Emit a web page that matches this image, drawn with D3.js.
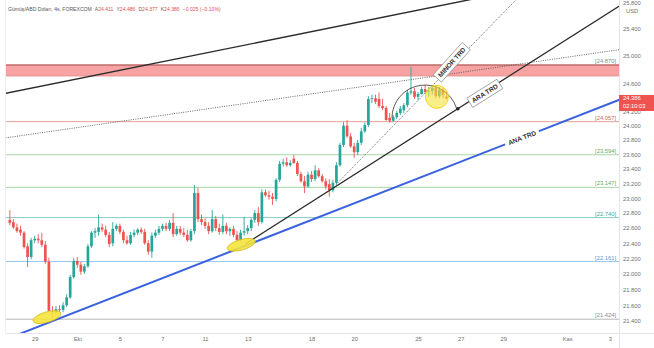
<!DOCTYPE html>
<html><head><meta charset="utf-8">
<script src="https://cdn.jsdelivr.net/npm/d3@7/dist/d3.min.js"></script>
<style>body{margin:0;background:#fff}svg{display:block;font-family:"Liberation Sans",Arial,sans-serif}</style>
</head><body><svg id="c" width="654" height="348"></svg>
<script>
// ---------- DATA ----------
const titleText = "Gümüş/ABD Doları, 4s, FOREXCOM";
const ohlcLetters = ["A", "Y", "D", "K"];
const ohlcValues = ["24.411", "24.486", "24.377", "24.386"];
const changeText = "−0.025 (−0.10%)";
const firstBar = -7; // bar index of first candle (0 = 29 Eylül 00:00, 4h bars)
const opens = [22.71,22.68,22.61,22.58,22.54,22.36,22.22,22.44,22.46,22.44,22.38,22.16,21.53,21.51,21.55,21.54,21.60,21.70,21.96,22.17,22.12,22.03,22.10,22.36,22.54,22.55,22.61,22.58,22.51,22.40,22.59,22.63,22.55,22.44,22.40,22.51,22.54,22.58,22.55,22.40,22.29,22.50,22.54,22.59,22.63,22.59,22.67,22.52,22.59,22.54,22.51,22.44,22.56,23.07,22.72,22.68,22.63,22.56,22.72,22.60,22.55,22.63,22.56,22.59,22.51,22.44,22.54,22.56,22.60,22.71,22.80,22.68,23.08,23.04,23.02,22.99,23.25,23.47,23.49,23.45,23.54,23.48,23.33,23.23,23.16,23.32,23.26,23.38,23.30,23.23,23.19,23.11,23.21,23.45,23.73,24.00,23.85,23.71,23.63,23.76,23.92,24.01,24.38,24.39,24.38,24.28,24.25,24.11,24.07,24.12,24.18,24.22,24.29,24.47,24.49,24.41,24.45,24.52,24.48,24.49,24.54,24.42,24.51,24.411];
const highs = [22.84,22.72,22.66,22.63,22.56,22.40,22.47,22.50,22.52,22.54,22.43,22.21,21.59,21.59,21.60,21.64,21.74,21.99,22.21,22.22,22.16,22.13,22.39,22.56,22.60,22.78,22.66,22.63,22.55,22.68,22.66,22.66,22.58,22.50,22.55,22.58,22.60,22.61,22.59,22.44,22.54,22.58,22.63,22.66,22.67,22.71,22.80,22.63,22.63,22.60,22.58,22.59,23.18,23.14,22.78,22.73,22.68,22.84,22.76,22.66,22.78,22.67,22.61,22.63,22.56,22.58,22.75,22.64,22.73,22.84,22.88,23.12,23.12,23.10,23.07,23.27,23.51,23.54,23.56,23.52,23.59,23.51,23.36,23.30,23.36,23.37,23.45,23.41,23.33,23.27,23.26,23.25,23.49,23.76,24.05,24.08,23.90,23.76,23.80,23.97,24.05,24.42,24.44,24.44,24.47,24.38,24.28,24.18,24.15,24.21,24.28,24.32,24.51,24.84,24.54,24.48,24.55,24.58,24.55,24.57,24.58,24.55,24.54,24.486];
const lows = [22.64,22.59,22.54,22.50,22.33,22.09,22.19,22.40,22.40,22.35,22.13,21.50,21.424,21.48,21.51,21.51,21.58,21.68,21.94,22.08,21.99,22.00,22.08,22.34,22.47,22.50,22.55,22.48,22.35,22.36,22.56,22.52,22.40,22.38,22.38,22.48,22.51,22.52,22.38,22.25,22.21,22.47,22.51,22.56,22.56,22.56,22.48,22.50,22.51,22.48,22.42,22.42,22.52,22.68,22.64,22.59,22.52,22.54,22.56,22.51,22.52,22.52,22.50,22.48,22.42,22.42,22.50,22.52,22.56,22.67,22.63,22.66,23.02,22.98,22.91,22.96,23.22,23.43,23.43,23.43,23.47,23.30,23.21,23.07,23.14,23.22,23.23,23.28,23.21,23.12,23.02,23.08,23.18,23.43,23.70,23.83,23.69,23.55,23.59,23.73,23.90,23.98,24.32,24.31,24.25,24.22,24.07,24.04,24.05,24.09,24.15,24.18,24.26,24.44,24.38,24.36,24.44,24.45,24.41,24.44,24.39,24.39,24.39,24.377];
const closes = [22.67,22.61,22.56,22.54,22.35,22.22,22.44,22.46,22.44,22.38,22.16,21.53,21.51,21.55,21.54,21.60,21.70,21.96,22.17,22.12,22.03,22.10,22.36,22.54,22.56,22.61,22.58,22.51,22.39,22.59,22.63,22.55,22.44,22.40,22.51,22.54,22.58,22.55,22.40,22.29,22.50,22.54,22.59,22.63,22.59,22.67,22.52,22.59,22.54,22.51,22.44,22.56,23.07,22.72,22.68,22.63,22.56,22.72,22.60,22.55,22.63,22.56,22.59,22.51,22.44,22.54,22.56,22.60,22.71,22.80,22.68,23.08,23.04,23.02,22.99,23.25,23.47,23.49,23.45,23.48,23.48,23.33,23.23,23.16,23.32,23.26,23.38,23.30,23.23,23.16,23.11,23.21,23.45,23.73,24.00,23.85,23.71,23.63,23.76,23.92,24.01,24.38,24.39,24.34,24.28,24.25,24.08,24.07,24.12,24.18,24.24,24.29,24.47,24.49,24.41,24.45,24.52,24.48,24.49,24.54,24.42,24.51,24.44,24.386];
const timeTickBars = [0, 12, 24, 36, 48, 60, 78, 90, 108, 120, 132, 150, 162];
const timeTickLabels = ["29", "Eki", "5", "7", "11", "13", "18", "20", "25", "27", "29", "Kas", "3"];
const priceTicks = [25.8, 25.4, 25.0, 24.6, 24.2, 24.0, 23.8, 23.6, 23.4, 23.2, 23.0, 22.8, 22.6, 22.4, 22.2, 22.0, 21.8, 21.6, 21.4];
const levelValues = [24.870, 24.057, 23.594, 23.147, 22.740, 22.161, 21.424];
const levelLabels = ["[24.870]", "[24.057]", "[23.594]", "[23.147]", "[22.740]", "[22.161]", "[21.424]"];
const resistanceZone = [24.71, 24.87];
const lastPrice = 24.386;
const countdown = "02:10:03";
// trend lines as [bar1, price1, bar2, price2]
const upperTrend = [-8.08, 24.46, 117.8, 25.79];
const upperDotted = [-8.08, 23.83, 83.2, 24.49];
const minorTrend = [85.4, 23.21, 134.7, 25.79];
const araTrend = [59.3, 22.39, 119.2, 24.24];
const anaTrend = [-1.32, 21.29, 164.3, 24.36];
const trendLabels = ["MINOR TRD", "ARA TRD", "ANA TRD"];
const trendLabelPos = [[117.5, 24.91], [126.8, 24.46], [137.3, 23.83]];
const highlightEllipses = [[3.46, 21.45], [58.2, 22.38]];
const highlightCircle = [113.3, 24.41];
const arcCenter = [109.94, 24.108];

// ---------- LAYOUT ----------
const W = 654, H = 348, L = 6, R = 619, T = 0, B = 333;
const svg = d3.select("#c");
const x = d3.scaleLinear().domain([-8.08, 164.6]).range([L, R]);
const y = d3.scaleLog().domain([21.251, 25.837]).range([B, T]);

svg.append("rect").attr("width", W).attr("height", H).attr("fill", "#fff");
svg.append("defs").append("clipPath").attr("id", "clip")
  .append("rect").attr("x", L).attr("y", T).attr("width", R - L).attr("height", B - T);
const plot = svg.append("g").attr("clip-path", "url(#clip)");

// frame
svg.append("line").attr("x1", R + 0.5).attr("x2", R + 0.5).attr("y1", 0).attr("y2", H).attr("stroke", "#e3e5ea");
svg.append("line").attr("x1", L - 0.5).attr("x2", L - 0.5).attr("y1", 0).attr("y2", B).attr("stroke", "#eceef2");
svg.append("line").attr("x1", L).attr("x2", W).attr("y1", B + 0.5).attr("y2", B + 0.5).attr("stroke", "#e3e5ea");

// resistance zone
plot.append("rect").attr("x", L).attr("width", R - L)
  .attr("y", y(resistanceZone[1])).attr("height", y(resistanceZone[0]) - y(resistanceZone[1]))
  .attr("fill", "#f7a3a3");
plot.append("line").attr("x1", L).attr("x2", R).attr("y1", y(resistanceZone[1])).attr("y2", y(resistanceZone[1]))
  .attr("stroke", "#bf6b6b").attr("stroke-width", 1.3);
plot.append("line").attr("x1", L).attr("x2", R).attr("y1", y(resistanceZone[0])).attr("y2", y(resistanceZone[0]))
  .attr("stroke", "#e58c8c").attr("stroke-width", 0.8);

// levels
const levelColors = ["#a0a0a0", "#e9a196", "#a9d7a6", "#a9d7a6", "#86ccc6", "#98c8ef", "#b5b5b5"];
const levelTextColors = ["#8a8a8a", "#d4665c", "#62ad5e", "#62ad5e", "#3fa9a0", "#5a9bd8", "#8a8a8a"];
levelValues.forEach((v, k) => {
  if (k > 0) plot.append("line").attr("x1", L).attr("x2", R).attr("y1", y(v)).attr("y2", y(v))
    .attr("stroke", levelColors[k]).attr("stroke-width", 1);
  svg.append("text").attr("x", 616).attr("y", y(v) - 2).attr("text-anchor", "end")
    .attr("font-size", 5.8).attr("fill", levelTextColors[k]).text(levelLabels[k]);
});

// candles
const up = "#26a69a", dn = "#ef5350";
const bars = opens.map((o, k) => ({ i: firstBar + k, o, h: highs[k], l: lows[k], c: closes[k] }));
const cg = plot.append("g");
bars.forEach(b => {
  const col = b.c >= b.o ? up : dn;
  const cx = x(b.i);
  cg.append("line").attr("x1", cx).attr("x2", cx).attr("y1", y(b.h)).attr("y2", y(b.l))
    .attr("stroke", col).attr("stroke-width", 0.9);
  const top = y(Math.max(b.o, b.c)), bot = y(Math.min(b.o, b.c));
  cg.append("rect").attr("x", cx - 1.35).attr("width", 2.7).attr("y", top).attr("height", Math.max(0.9, bot - top))
    .attr("fill", col);
});

// trend lines
function seg(t, fromStart) {
  const x1 = x(t[0]), y1 = y(t[1]), x2 = x(t[2]), y2 = y(t[3]);
  const m = (y2 - y1) / (x2 - x1);
  const xa = fromStart ? x1 : L - 5, xb = R + 5;
  return [[xa, y1 + m * (xa - x1)], [xb, y1 + m * (xb - x1)]];
}
const line = d3.line();
plot.append("path").attr("d", line(seg(upperTrend, false))).attr("stroke", "#2b2b2b").attr("stroke-width", 1.4).attr("fill", "none");
plot.append("path").attr("d", line(seg(upperDotted, false))).attr("stroke", "#555").attr("stroke-width", 0.9)
  .attr("stroke-dasharray", "1,1.3").attr("fill", "none");
plot.append("path").attr("d", line(seg(minorTrend, true))).attr("stroke", "#555").attr("stroke-width", 0.9)
  .attr("stroke-dasharray", "1,1.3").attr("fill", "none");
plot.append("path").attr("d", line(seg(araTrend, true))).attr("stroke", "#2b2b2b").attr("stroke-width", 1.3).attr("fill", "none");
plot.append("path").attr("d", line(seg(anaTrend, false))).attr("stroke", "#3a62e0").attr("stroke-width", 2).attr("fill", "none");
plot.append("circle").attr("cx", x(araTrend[2])).attr("cy", y(araTrend[3])).attr("r", 1.8).attr("fill", "#222");

// arc
const acx = x(arcCenter[0]), acy = y(arcCenter[1]), ar = 33;
const a2 = 73 * Math.PI / 180;
plot.append("path")
  .attr("d", `M${acx - ar},${acy} A${ar},${ar} 0 0 1 ${acx + ar * Math.sin(a2)},${acy - ar * Math.cos(a2)}`)
  .attr("fill", "none").attr("stroke", "#333").attr("stroke-width", 0.8);

// highlights
highlightEllipses.forEach(e => {
  plot.append("ellipse").attr("cx", x(e[0])).attr("cy", y(e[1])).attr("rx", 14.5).attr("ry", 5.2)
    .attr("transform", `rotate(-16 ${x(e[0])} ${y(e[1])})`)
    .attr("fill", "#f5e33c").attr("fill-opacity", 0.9).attr("stroke", "#d6bd1a").attr("stroke-width", 0.8);
});
plot.append("circle").attr("cx", x(highlightCircle[0])).attr("cy", y(highlightCircle[1])).attr("r", 11.5)
  .attr("fill", "#f7e23a").attr("fill-opacity", 0.6).attr("stroke", "#f2d51f").attr("stroke-width", 1);

// trend labels
const labelAngles = [-48, -32, -21];
trendLabels.forEach((t, k) => {
  const px = x(trendLabelPos[k][0]), py = y(trendLabelPos[k][1]);
  const g = svg.append("g").attr("transform", `translate(${px},${py}) rotate(${labelAngles[k]})`);
  const tx = g.append("text").attr("text-anchor", "middle").attr("dy", "0.35em")
    .attr("font-size", 6.6).attr("font-weight", "bold").attr("fill", "#333").text(t);
  const w = tx.node().getComputedTextLength() + 6;
  g.insert("rect", "text").attr("x", -w / 2).attr("y", -5.5).attr("width", w).attr("height", 11)
    .attr("fill", "#fff").attr("stroke", k === 2 ? "#fff" : "#8a8a8a").attr("stroke-width", 0.7);
});

// axes
const yAxis = d3.axisRight(y).tickValues(priceTicks).tickFormat(d3.format(".3f")).tickSize(0).tickPadding(4);
const yg = svg.append("g").attr("transform", `translate(${R},0)`).call(yAxis);
yg.select(".domain").remove();
yg.selectAll("text").attr("font-size", 5.8).attr("fill", "#707070").attr("font-family", "Liberation Sans, Arial, sans-serif");
svg.append("text").attr("x", 626).attr("y", 12.5).attr("font-size", 5.8).attr("fill", "#707070").text("USD");

const xAxis = d3.axisBottom(x).tickValues(timeTickBars).tickFormat((d, k) => timeTickLabels[k]).tickSize(0).tickPadding(4);
const xg = svg.append("g").attr("transform", `translate(0,${B})`).call(xAxis);
xg.select(".domain").remove();
xg.selectAll("text").attr("font-size", 5.8).attr("fill", "#707070").attr("font-family", "Liberation Sans, Arial, sans-serif");

// price tag
const py0 = y(lastPrice);
svg.append("rect").attr("x", R).attr("y", py0 - 3.5).attr("width", W - R).attr("height", 16).attr("fill", "#ef5350");
svg.append("text").attr("x", 623).attr("y", py0 + 2).attr("font-size", 5.8).attr("fill", "#fff").text(lastPrice.toFixed(3));
svg.append("text").attr("x", 623).attr("y", py0 + 9.5).attr("font-size", 5.8).attr("fill", "#fff").text(countdown);

// title
const tt = svg.append("text").attr("x", 8).attr("y", 11).attr("font-size", 5.1).attr("fill", "#555");
tt.append("tspan").text(titleText);
ohlcLetters.forEach((l, k) => {
  tt.append("tspan").attr("dx", 3).attr("fill", "#666").text(l);
  tt.append("tspan").attr("fill", "#e0514c").text(ohlcValues[k]);
});
tt.append("tspan").attr("dx", 3).attr("fill", "#e0514c").text(changeText);
</script></body></html>
